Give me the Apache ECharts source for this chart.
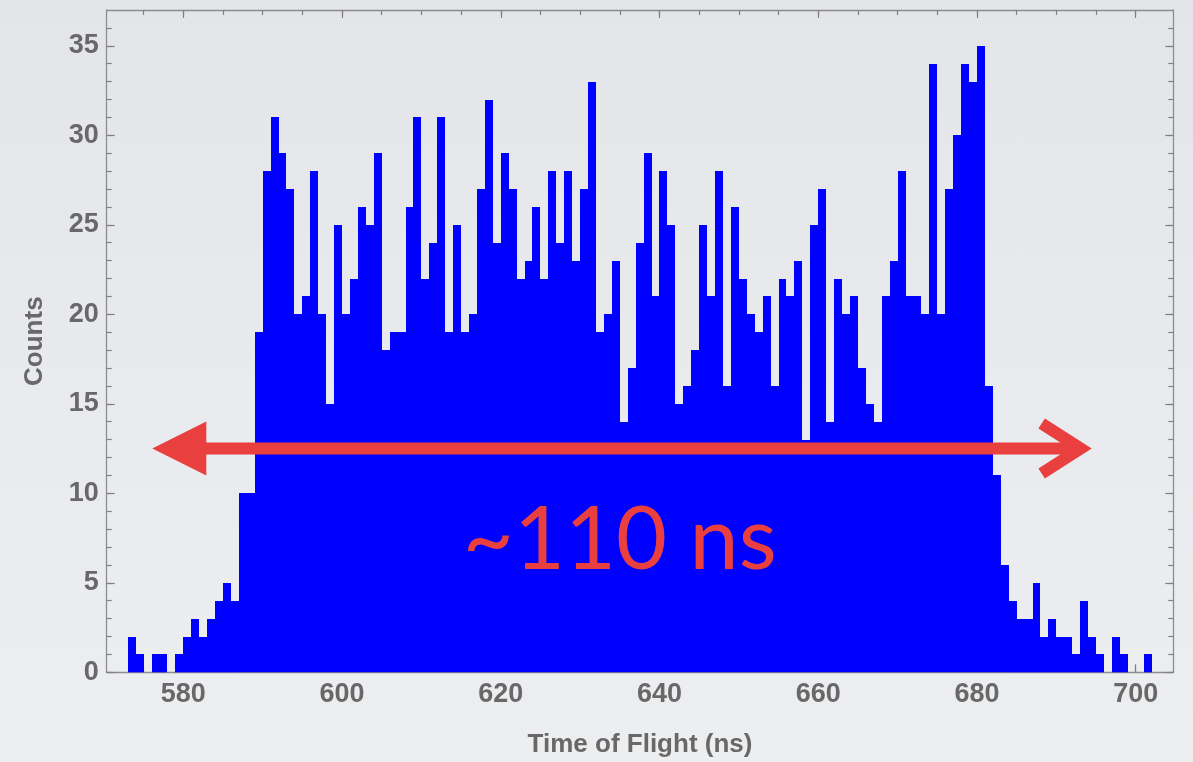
<!DOCTYPE html>
<html>
<head>
<meta charset="utf-8">
<title>Time of Flight histogram</title>
<script src="https://cdn.jsdelivr.net/npm/echarts@6/dist/echarts.min.js"></script>
<style>
  html, body { margin: 0; padding: 0; }
  body { width: 1193px; height: 762px; background: linear-gradient(180deg, #e3e5e9 0%, #e9ebee 60%, #edeef0 100%); }
  #chart { width: 1193px; height: 762px; }
</style>
</head>
<body>
<div id="chart"></div>
<script>
// Histogram bins: left edge of each 1 ns bin (ns) and its count
const binStarts = [
  573, 574, 575, 576, 577, 578, 579, 580, 581, 582,
  583, 584, 585, 586, 587, 588, 589, 590, 591, 592,
  593, 594, 595, 596, 597, 598, 599, 600, 601, 602,
  603, 604, 605, 606, 607, 608, 609, 610, 611, 612,
  613, 614, 615, 616, 617, 618, 619, 620, 621, 622,
  623, 624, 625, 626, 627, 628, 629, 630, 631, 632,
  633, 634, 635, 636, 637, 638, 639, 640, 641, 642,
  643, 644, 645, 646, 647, 648, 649, 650, 651, 652,
  653, 654, 655, 656, 657, 658, 659, 660, 661, 662,
  663, 664, 665, 666, 667, 668, 669, 670, 671, 672,
  673, 674, 675, 676, 677, 678, 679, 680, 681, 682,
  683, 684, 685, 686, 687, 688, 689, 690, 691, 692,
  693, 694, 695, 696, 697, 698, 699, 700, 701
];
const counts = [
  2, 1, 0, 1, 1, 0, 1, 2, 3, 2,
  3, 4, 5, 4, 10, 10, 19, 28, 31, 29,
  27, 20, 21, 28, 20, 15, 25, 20, 22, 26,
  25, 29, 18, 19, 19, 26, 31, 22, 24, 31,
  19, 25, 19, 20, 27, 32, 24, 29, 27, 22,
  23, 26, 22, 28, 24, 28, 23, 27, 33, 19,
  20, 23, 14, 17, 24, 29, 21, 28, 25, 15,
  16, 18, 25, 21, 28, 16, 26, 22, 20, 19,
  21, 16, 22, 21, 23, 13, 25, 27, 14, 22,
  20, 21, 17, 15, 14, 21, 23, 28, 21, 21,
  20, 34, 20, 27, 30, 34, 33, 35, 16, 11,
  6, 4, 3, 3, 5, 2, 3, 2, 2, 1,
  4, 2, 1, 0, 2, 1, 0, 0, 1
];
const binWidth = 1;

// Axis ranges and tick marks
const xRange = [570.35, 704.74];
const yRange = [0, 37];
const xMajorTicks = [580, 600, 620, 640, 660, 680, 700];
const xMinorTicks = [575, 580, 585, 590, 595, 600, 605, 610, 615, 620, 625, 630, 635, 640,
                     645, 650, 655, 660, 665, 670, 675, 680, 685, 690, 695, 700];
const yMajorTicks = [0, 5, 10, 15, 20, 25, 30, 35];
const yMinorTicks = [];
for (let v = 0; v <= 36; v++) yMinorTicks.push(v);

// Span annotation: double arrow and its label (data coordinates)
const spanFrom = 576.1;
const spanTo = 694.45;
const spanLevel = 12.5;
const spanText = '~110 ns';
const spanTextAt = [635, 7.35];

const frameColor = '#8d8d8d';
const tickColor = '#808080';
const labelColor = '#686868';
const accent = '#e9403f';
const labelFamily = 'Liberation Sans, Arial, sans-serif';

function makeAxis(kind, position, ticks, tickLen, withLine, extra) {
  const isX = kind === 'x';
  const range = isX ? xRange : yRange;
  return Object.assign({
    type: 'value',
    position: position,
    min: range[0],
    max: range[1],
    gridIndex: 0,
    splitLine: { show: false },
    axisLine: { show: withLine, onZero: false, lineStyle: { color: frameColor, width: 1.3 } },
    axisTick: { show: true, inside: true, length: tickLen, customValues: ticks,
                lineStyle: { color: tickColor, width: 1.2 } },
    axisLabel: { show: false }
  }, extra || {});
}

const tickFont = { fontSize: 27, fontWeight: 'bold', color: labelColor, fontFamily: labelFamily };
const nameFont = { fontSize: 26, fontWeight: 'bold', color: labelColor, fontFamily: labelFamily };

const option = {
  animation: false,
  backgroundColor: 'transparent',
  grid: { left: 106.7, right: 19.7, top: 10, bottom: 89.7, outerBoundsMode: 'none' },
  xAxis: [
    makeAxis('x', 'bottom', xMajorTicks, 8, true, {
      axisLabel: Object.assign({ show: true, margin: 9, customValues: xMajorTicks }, tickFont),
      name: 'Time of Flight (ns)',
      nameLocation: 'middle',
      nameGap: 60,
      nameTextStyle: nameFont
    }),
    makeAxis('x', 'bottom', xMinorTicks, 5, false),
    makeAxis('x', 'top', xMajorTicks, 8, true),
    makeAxis('x', 'top', xMinorTicks, 5, false)
  ],
  yAxis: [
    makeAxis('y', 'left', yMajorTicks, 8, true, {
      axisLabel: Object.assign({ show: true, margin: 8, customValues: yMajorTicks }, tickFont),
      name: 'Counts',
      nameLocation: 'middle',
      nameGap: 59,
      nameTextStyle: nameFont
    }),
    makeAxis('y', 'left', yMinorTicks, 5, false),
    makeAxis('y', 'right', yMajorTicks, 8, true),
    makeAxis('y', 'right', yMinorTicks, 5, false)
  ],
  series: [
    {
      // histogram columns, one rectangle per bin, edges snapped to whole pixels
      type: 'custom',
      xAxisIndex: 0,
      yAxisIndex: 0,
      encode: { x: 0, y: 1 },
      data: binStarts.map((t, i) => [t, counts[i]]),
      renderItem: function (params, api) {
        const t = api.value(0);
        const c = api.value(1);
        if (!c) return null;
        const p0 = api.coord([t, 0]);
        const p1 = api.coord([t + binWidth, c]);
        const xl = Math.round(p0[0]);
        const xr = Math.round(p1[0]);
        const yt = Math.round(p1[1]);
        return {
          type: 'rect',
          shape: { x: xl, y: yt, width: xr - xl, height: p0[1] - yt },
          style: { fill: '#0000ff', stroke: null }
        };
      },
      z: 2
    },
    {
      // double arrow spanning the flight-time window, with its label
      type: 'custom',
      xAxisIndex: 0,
      yAxisIndex: 0,
      encode: { x: [0, 1, 3], y: [2, 4] },
      data: [[spanFrom, spanTo, spanLevel, spanTextAt[0], spanTextAt[1]]],
      renderItem: function (params, api) {
        const a = api.coord([api.value(0), api.value(2)]);
        const b = api.coord([api.value(1), api.value(2)]);
        const tp = api.coord([api.value(3), api.value(4)]);
        const y = a[1];
        return {
          type: 'group',
          children: [
            {
              type: 'line',
              shape: { x1: a[0] + 50, y1: y, x2: b[0] - 12, y2: y },
              style: { stroke: accent, lineWidth: 12, lineCap: 'butt' }
            },
            {
              type: 'polygon',
              shape: { points: [[a[0], y], [a[0] + 54, y - 27], [a[0] + 54, y + 27]] },
              style: { fill: accent }
            },
            {
              type: 'polyline',
              shape: { points: [[b[0] - 50, y - 25], [b[0] - 11, y], [b[0] - 50, y + 25]] },
              style: { stroke: accent, fill: null, lineWidth: 12, lineJoin: 'miter', lineCap: 'butt' }
            },
            {
              type: 'text',
              x: tp[0],
              y: tp[1],
              style: {
                text: spanText,
                fill: accent,
                fontSize: 88,
                fontFamily: 'Lato, "Open Sans", sans-serif',
                align: 'center',
                verticalAlign: 'middle'
              }
            }
          ]
        };
      },
      z: 5
    }
  ]
};

const chart = echarts.init(document.getElementById('chart'), null, { renderer: 'canvas' });
chart.setOption(option);
</script>
</body>
</html>
